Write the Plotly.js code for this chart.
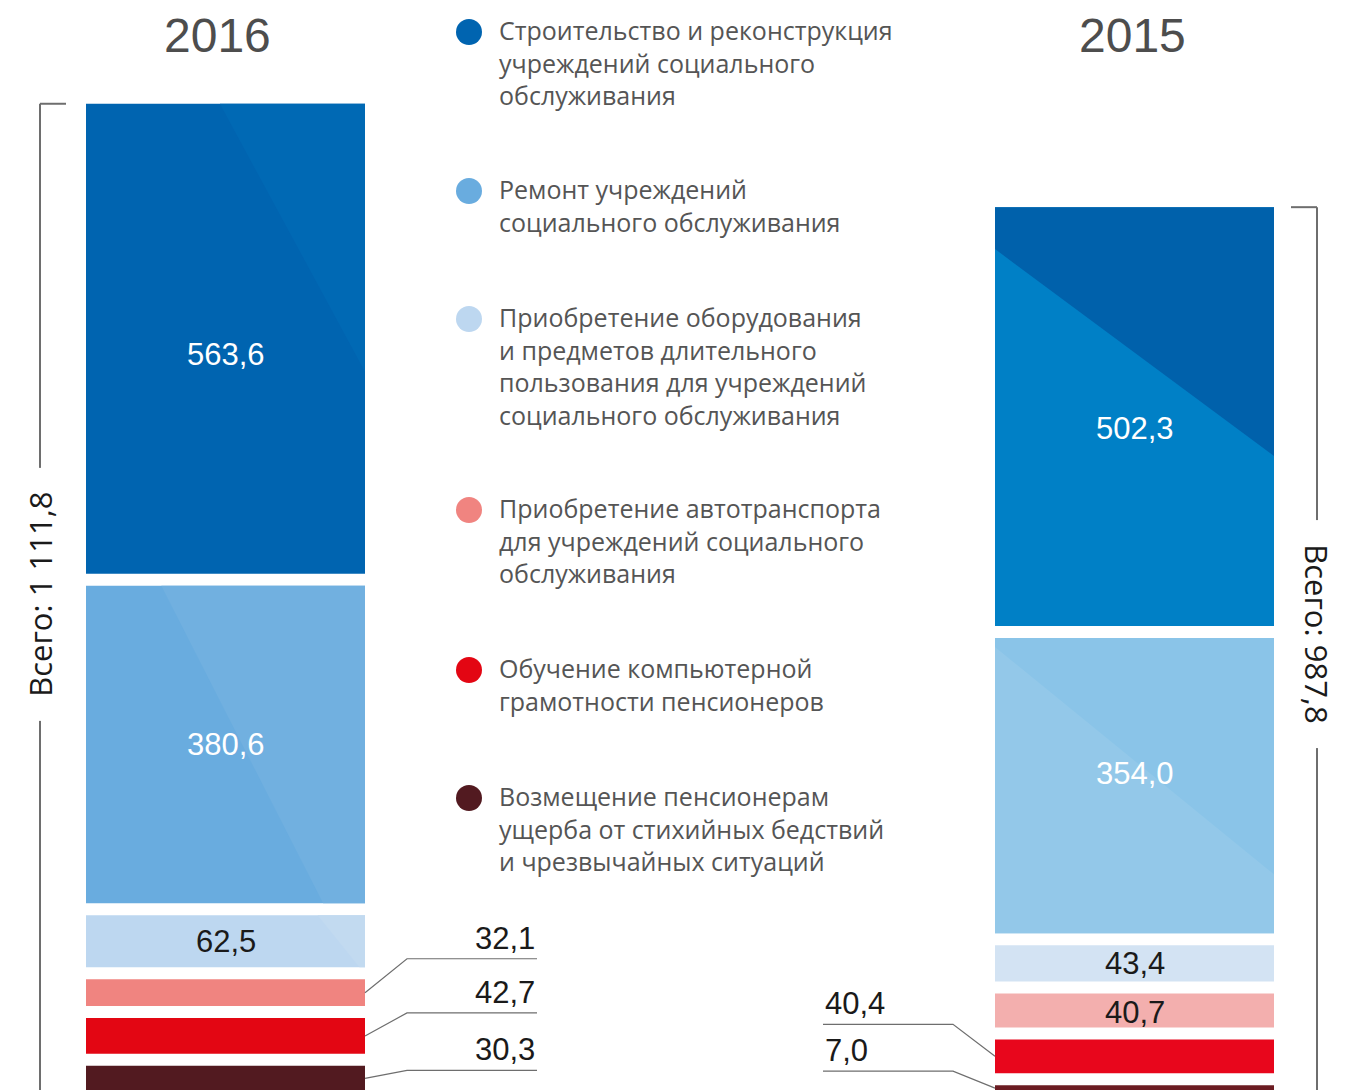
<!DOCTYPE html>
<html>
<head>
<meta charset="utf-8">
<script src="https://cdn.plot.ly/plotly-3.0.1.min.js"></script>
<style>
  html, body { margin: 0; padding: 0; background: #fff; }
  #chart { width: 1354px; height: 1090px; }
</style>
</head>
<body>
<div id="chart"></div>
<script>
// --- data ---
const years = ['2016', '2015'];
const categories = [
  'Строительство и реконструкция<br>учреждений социального<br>обслуживания',
  'Ремонт учреждений<br>социального обслуживания',
  'Приобретение оборудования<br>и предметов длительного<br>пользования для учреждений<br>социального обслуживания',
  'Приобретение автотранспорта<br>для учреждений социального<br>обслуживания',
  'Обучение компьютерной<br>грамотности пенсионеров',
  'Возмещение пенсионерам<br>ущерба от стихийных бедствий<br>и чрезвычайных ситуаций'
];
const values2016 = [563.6, 380.6, 62.5, 32.1, 42.7, 30.3];
const values2015 = [502.3, 354.0, 43.4, 40.7, 40.4, 7.0];

// --- styles ---
const colors2016 = ['#0064b0', '#69acdf', '#bdd7f0', '#f08480', '#e30613', '#521a20'];
const colors2015 = ['#0080c6', '#8ac4e8', '#d3e3f3', '#f3afae', '#e8061c', '#6b1c22'];
const legendColors = ['#0064b0', '#69acdf', '#bdd7f0', '#f08480', '#e30613', '#521a20'];
const FONT = 'Liberation Sans, Arial, sans-serif';
const WIDE = 'Open Sans, Liberation Sans, sans-serif';

// geometry (pixel helpers)
const W = 1354, H = 1090;
const pxPerUnit = 0.834, basePx = 1091;
const xc0 = 225.5, xc1 = 1134.5;
const px2x = p => (p - xc0) / (xc1 - xc0);
const px2y = p => (basePx - p) / pxPerUnit;
const gapU = 12 / pxPerUnit;
const barW = 279 / (xc1 - xc0);

const fmt = v => v.toFixed(1).replace('.', ',').replace(/\B(?=(\d{3})+(?!\d))/g, ' ');

const series = [values2016, values2015];

// bases: stacked from the bottom (last category) up, with a gap between segments
function baseOf(yi, k) {
  let b = 0;
  for (let j = k + 1; j < categories.length; j++) b += series[yi][j] + gapU;
  return b;
}

const traces = categories.map((name, k) => ({
  type: 'bar',
  name: name,
  x: years,
  y: [values2016[k], values2015[k]],
  base: [baseOf(0, k), baseOf(1, k)],
  width: barW,
  marker: { color: [colors2016[k], colors2015[k]], line: { width: 0 } },
  hoverinfo: 'skip'
}));

const shapes = [];
const annotations = [];

// facets (subtle diagonal tones inside the big segments)
function seg(yi, k) {
  const b = baseOf(yi, k), v = series[yi][k];
  return { xl: yi - barW / 2, xr: yi + barW / 2, yb: b, yt: b + v, v: v };
}
function poly(pts, color) {
  shapes.push({
    type: 'path', xref: 'x', yref: 'y', layer: 'above',
    path: 'M ' + pts.map(p => p[0] + ',' + p[1]).join(' L ') + ' Z',
    fillcolor: color, line: { width: 0 }
  });
}
{
  const s = seg(0, 0), w = s.xr - s.xl;
  poly([[s.xl + 0.48 * w, s.yt], [s.xr, s.yt], [s.xr, s.yt - 0.57 * s.v]], '#0069b4');
  const r = seg(0, 1);
  poly([[r.xl + 0.27 * w, r.yt], [r.xr, r.yt], [r.xr, r.yb], [r.xl + 0.85 * w, r.yb]], '#71b0e0');
  const e = seg(0, 2);
  poly([[e.xl + 0.83 * w, e.yt], [e.xr, e.yt], [e.xr, e.yb], [e.xl + 0.98 * w, e.yb]], '#c2daf0');
  const t = seg(1, 0);
  poly([[t.xl, t.yt], [t.xr, t.yt], [t.xr, t.yt - 0.594 * t.v], [t.xl, t.yt - 0.1 * t.v]], '#0061ab');
  const q = seg(1, 1);
  poly([[q.xl, q.yt - 0.03 * q.v], [q.xr, q.yt - 0.8 * q.v], [q.xr, q.yb], [q.xl, q.yb]], '#93c8e9');
}

// value labels inside segments
const insideCount = [3, 4];
const whiteLabels = 2;
const labelShift = [[-16, 0, 0], [-12, 12, 0, -2]];
years.forEach((yr, yi) => {
  for (let k = 0; k < insideCount[yi]; k++) {
    const s = seg(yi, k);
    annotations.push({
      xref: 'x', yref: 'y', x: yi, y: (s.yb + s.yt) / 2, yshift: labelShift[yi][k],
      text: fmt(series[yi][k]), showarrow: false,
      xanchor: 'center', yanchor: 'middle',
      font: { family: FONT, size: 31, color: k < whiteLabels ? '#ffffff' : '#1a1a1a' }
    });
  }
});

// value labels outside with leader lines
const outside = [
  { yi: 0, k: 3, rise: -34 }, { yi: 0, k: 4, rise: -23 }, { yi: 0, k: 5, rise: -8 },
  { yi: 1, k: 4, rise: -32 }, { yi: 1, k: 5, rise: -17 }
];
outside.forEach(o => {
  const s = seg(o.yi, o.k);
  const cy = (s.yb + s.yt) / 2;
  const cyPx = basePx - cy * pxPerUnit;
  const lineY = px2y(cyPx + o.rise);
  const dir = o.yi === 0 ? 1 : -1;
  const edgePx = o.yi === 0 ? 365 : 995;
  const x0 = o.yi === 0 ? s.xr : s.xl;
  const x1 = px2x(edgePx + dir * 42);
  const x2 = px2x(edgePx + dir * 172);
  shapes.push({
    type: 'path', xref: 'x', yref: 'y', layer: 'above',
    path: `M ${x0},${cy} L ${x1},${lineY} L ${x2},${lineY}`,
    line: { color: '#6e6e6e', width: 1.2 }
  });
  annotations.push({
    xref: 'x', yref: 'y', x: x2, y: lineY,
    text: fmt(series[o.yi][o.k]), showarrow: false,
    xanchor: o.yi === 0 ? 'right' : 'left', yanchor: 'bottom', yshift: 1,
    font: { family: FONT, size: 31, color: '#1a1a1a' }
  });
});

// year titles
const yearPx = [217, 1132];
years.forEach((yr, yi) => {
  annotations.push({
    xref: 'x', yref: 'paper', x: px2x(yearPx[yi]), y: 1 - 35 / H,
    text: yr, showarrow: false, xanchor: 'center', yanchor: 'middle',
    font: { family: FONT, size: 48, color: '#4d4d4d' }
  });
});

// brackets with totals (white box behind the text cuts the line)
const bracketPx = [[40, 66], [1317, 1291]];
const pad = '\u00a0\u00a0';
years.forEach((yr, yi) => {
  const top = baseOf(yi, 0) + series[yi][0];
  const total = series[yi].reduce((a, b) => a + b, 0);
  const bx = px2x(bracketPx[yi][0]), tx = px2x(bracketPx[yi][1]);
  shapes.push({ type: 'line', xref: 'x', yref: 'y', x0: bx, x1: bx, y0: top, y1: px2y(1100),
    line: { color: '#6e6e6e', width: 2 } });
  shapes.push({ type: 'line', xref: 'x', yref: 'y', x0: bx, x1: tx, y0: top, y1: top,
    line: { color: '#6e6e6e', width: 2 } });
  annotations.push({
    xref: 'x', yref: 'y', x: bx, y: top / 2 + (yi === 0 ? 3 : 18),
    text: pad + 'Всего: ' + fmt(total) + pad, showarrow: false,
    textangle: yi === 0 ? -90 : 90, xanchor: 'center', yanchor: 'middle',
    bgcolor: '#ffffff', borderpad: 8, borderwidth: 0,
    font: { family: WIDE, size: 31, color: '#1a1a1a' }
  });
});

// legend (circles + text)
const legendTop = [32, 191, 319, 510, 670, 798];
categories.forEach((name, k) => {
  const cy = 1 - legendTop[k] / H;
  shapes.push({
    type: 'circle', xref: 'paper', yref: 'paper', xsizemode: 'pixel', ysizemode: 'pixel',
    xanchor: 469 / W, yanchor: cy, x0: -13, x1: 13, y0: -13, y1: 13,
    fillcolor: legendColors[k], line: { width: 0 }
  });
  annotations.push({
    xref: 'paper', yref: 'paper', x: 499 / W, y: 1 - (legendTop[k] - 19) / H,
    text: name, showarrow: false, align: 'left', xanchor: 'left', yanchor: 'top',
    borderpad: 0, borderwidth: 0,
    font: { family: WIDE, size: 25, color: '#555555' }
  });
});

const layout = {
  width: W, height: H,
  margin: { l: 0, r: 0, t: 0, b: 0 },
  paper_bgcolor: '#ffffff', plot_bgcolor: '#ffffff',
  barmode: 'overlay',
  showlegend: false,
  hovermode: false,
  xaxis: { type: 'category', range: [px2x(0), px2x(W)], visible: false, fixedrange: true },
  yaxis: { range: [px2y(H), px2y(0)], visible: false, fixedrange: true },
  shapes: shapes,
  annotations: annotations
};

Plotly.newPlot('chart', traces, layout, { displayModeBar: false, staticPlot: true });
</script>
</body>
</html>
